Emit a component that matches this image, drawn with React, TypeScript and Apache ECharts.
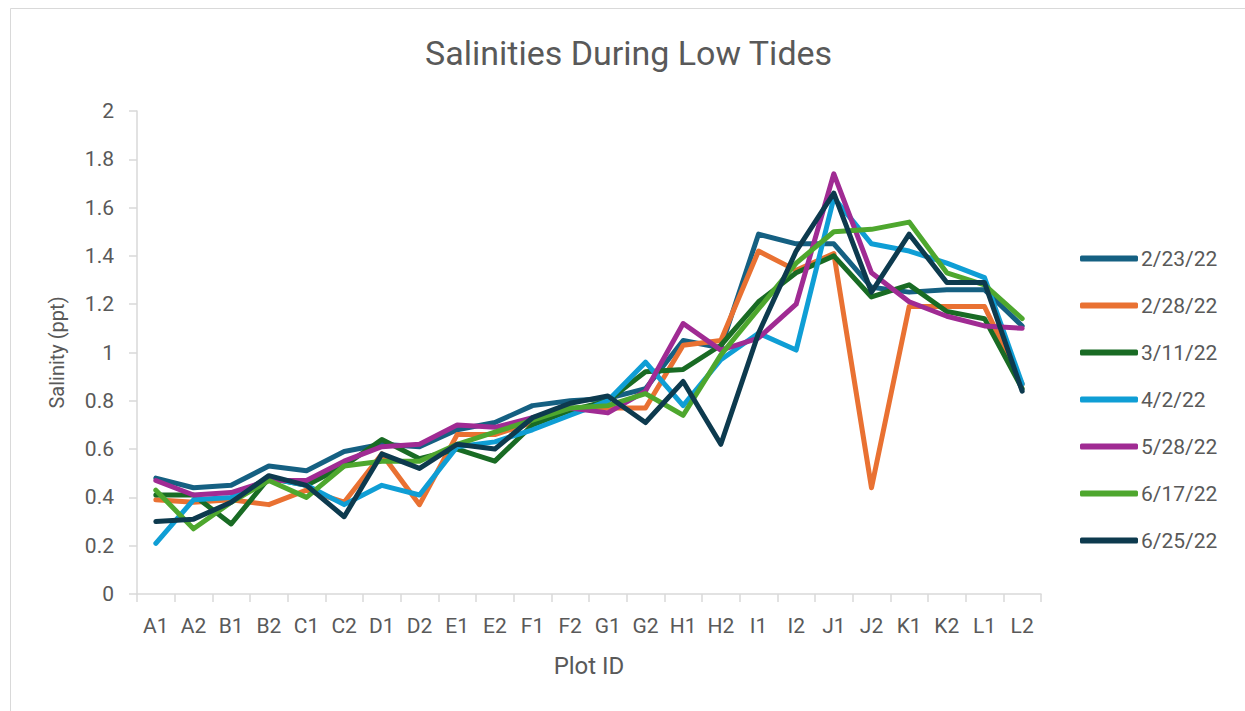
import React, { useEffect, useRef } from "react";
import * as echarts from "echarts";

const categories = ["A1","A2","B1","B2","C1","C2","D1","D2","E1","E2","F1","F2","G1","G2","H1","H2","I1","I2","J1","J2","K1","K2","L1","L2"];
const yTicks = [0, 0.2, 0.4, 0.6, 0.8, 1, 1.2, 1.4, 1.6, 1.8, 2];

const s0223 = [0.48,0.44,0.45,0.53,0.51,0.59,0.62,0.61,0.68,0.71,0.78,0.80,0.81,0.85,1.05,1.02,1.49,1.45,1.45,1.27,1.25,1.26,1.26,1.11];
const s0228 = [0.39,0.38,0.39,0.37,0.43,0.38,0.58,0.37,0.66,0.66,0.71,0.76,0.77,0.77,1.03,1.05,1.42,1.34,1.41,0.44,1.19,1.19,1.19,0.87];
const s0311 = [0.41,0.41,0.29,0.48,0.45,0.53,0.64,0.56,0.60,0.55,0.70,0.76,0.80,0.92,0.93,1.03,1.21,1.33,1.40,1.23,1.28,1.17,1.14,0.85];
const s0402 = [0.21,0.39,0.40,0.48,0.45,0.37,0.45,0.41,0.61,0.63,0.68,0.74,0.80,0.96,0.78,0.97,1.08,1.01,1.64,1.45,1.42,1.37,1.31,0.87];
const s0528 = [0.47,0.41,0.42,0.47,0.47,0.55,0.61,0.62,0.70,0.69,0.73,0.77,0.75,0.84,1.12,1.01,1.06,1.20,1.74,1.33,1.21,1.15,1.11,1.10];
const s0617 = [0.43,0.27,0.38,0.47,0.40,0.53,0.55,0.55,0.62,0.67,0.72,0.77,0.78,0.83,0.74,0.99,1.18,1.37,1.50,1.51,1.54,1.33,1.28,1.14];
const s0625 = [0.30,0.31,0.38,0.49,0.45,0.32,0.58,0.52,0.62,0.60,0.73,0.79,0.82,0.71,0.88,0.62,1.08,1.42,1.66,1.25,1.49,1.29,1.29,0.84];

const seriesNames = ["2/23/22","2/28/22","3/11/22","4/2/22","5/28/22","6/17/22","6/25/22"];
const seriesData = [s0223, s0228, s0311, s0402, s0528, s0617, s0625];
const colors = ["#156082","#E97132","#196B24","#0F9ED5","#A02B93","#4EA72E","#0D3A4E"];

const FONT = "Roboto";
const TXT = "#595959";

export default function App() {
  const ref = useRef<HTMLDivElement>(null);
  useEffect(() => {
    if (!ref.current) return;
    const chart = echarts.init(ref.current, null, { renderer: "svg" });
    chart.setOption({
      animation: false,
      color: colors,
      backgroundColor: "#ffffff",
      title: {
        text: "Salinities During Low Tides",
        left: 420,
        top: 31,
        textStyle: { fontFamily: FONT, fontSize: 34, fontWeight: "normal", color: TXT },
      },
      graphic: [
        {
          type: "rect",
          shape: { x: 10.5, y: 8.5, width: 1240, height: 710 },
          style: { fill: "none", stroke: "#d9d9d9", lineWidth: 1 },
          silent: true,
        },
      ],
      legend: {
        orient: "vertical",
        left: 1075,
        top: 243,
        itemWidth: 58,
        itemHeight: 6,
        itemGap: 26,
        icon: "roundRect",
        textStyle: { fontFamily: FONT, fontSize: 21, color: TXT, padding: [0, 0, 0, -2] },
        data: seriesNames,
      },
      grid: { left: 137, right: 204, top: 111, bottom: 117, containLabel: false },
      xAxis: {
        type: "category",
        data: categories,
        boundaryGap: true,
        name: "Plot ID",
        nameLocation: "middle",
        nameGap: 60,
        nameTextStyle: { fontFamily: FONT, fontSize: 24, color: TXT },
        axisLine: { show: true, lineStyle: { color: "#d9d9d9", width: 1.5 } },
        axisTick: { show: true, alignWithLabel: false, length: 8, lineStyle: { color: "#d9d9d9", width: 1.5 } },
        axisLabel: { fontFamily: FONT, fontSize: 21, color: TXT, margin: 21 },
        splitLine: { show: false },
      },
      yAxis: {
        type: "value",
        min: 0,
        max: 2,
        interval: 0.2,
        name: "Salinity (ppt)",
        nameLocation: "middle",
        nameGap: 70,
        nameRotate: 90,
        nameTextStyle: { fontFamily: FONT, fontSize: 20, color: TXT },
        axisLine: { show: true, lineStyle: { color: "#d9d9d9", width: 1.5 } },
        axisTick: { show: true, length: 8, lineStyle: { color: "#d9d9d9", width: 1.5 } },
        axisLabel: {
          fontFamily: FONT,
          fontSize: 21,
          color: TXT,
          margin: 23,
          formatter: (v: number) => {
            const t = yTicks.find((k) => Math.abs(k - v) < 1e-6);
            return String(t !== undefined ? t : Math.round(v * 10) / 10);
          },
        },
        splitLine: { show: false },
      },
      series: seriesNames.map((n, i) => ({
        name: n,
        type: "line",
        data: seriesData[i],
        showSymbol: false,
        symbol: "none",
        smooth: false,
        lineStyle: { width: 5, color: colors[i], cap: "round", join: "round" },
        itemStyle: { color: colors[i] },
      })),
    });
    return () => chart.dispose();
  }, []);
  return (
    <div
      ref={ref}
      style={{ position: "fixed", left: 0, top: 0, width: 1245, height: 711 }}
    />
  );
}
